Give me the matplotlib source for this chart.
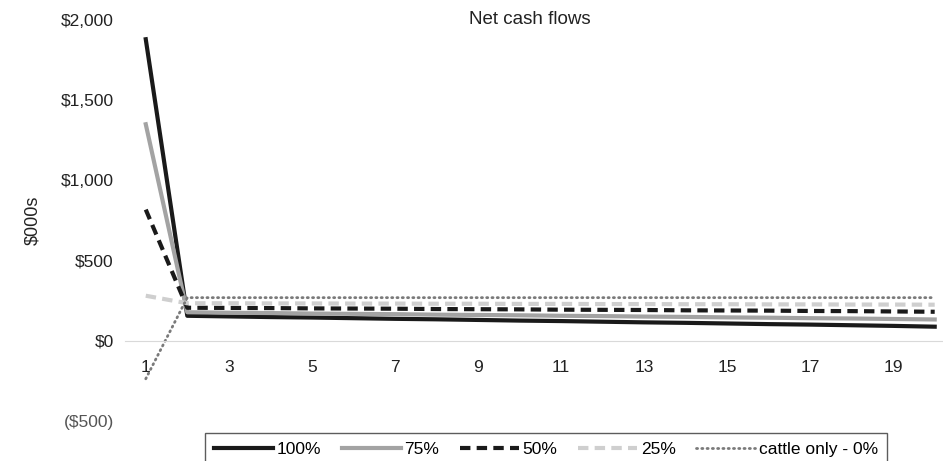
import numpy as np
import matplotlib.pyplot as plt

plt.rcParams['font.family'] = ['Liberation Sans', 'DejaVu Sans']

years = np.arange(1, 21)
# net cash flows, $000s
pct100 = [1880, 156, 152, 148, 145, 141, 137, 134, 130, 126, 123, 119, 115, 112, 108, 104, 101, 97, 93, 88]
pct75 = [1350, 178, 175, 173, 170, 168, 166, 163, 161, 159, 156, 154, 151, 149, 146, 144, 141, 139, 136, 133]
pct50 = [818, 206, 205, 204, 202, 201, 200, 198, 197, 196, 194, 193, 192, 190, 189, 188, 186, 185, 183, 181]
pct25 = [281, 234, 234, 233, 233, 232, 232, 231, 231, 230, 230, 229, 229, 228, 228, 227, 227, 226, 226, 225]
cattle = [-237, 269, 269, 269, 269, 269, 269, 269, 269, 269, 269, 269, 269, 269, 269, 269, 269, 269, 269, 269]

fig = plt.figure(figsize=(9.43, 4.61), dpi=100)
ax = fig.add_axes([125/943, 1 - 421/461, 1 - 125/943, 401/461])

ax.plot(years, pct100, color='#1a1a1a', lw=3, label='100%')
ax.plot(years, pct75, color='#a3a3a3', lw=3, label='75%')
ax.plot(years, pct50, color='#1a1a1a', lw=3, ls=(0, (2.5, 1.5)), label='50%')
ax.plot(years, pct25, color='#cfcfcf', lw=3, ls=(0, (2.5, 1.5)), label='25%')
ax.plot(years, cattle, color='#7a7a7a', lw=2, ls=(0, (0.4, 1.5)), dash_capstyle='round', label='cattle only - 0%')

ax.set_xlim(0.5, 20.2)
ax.set_ylim(-500, 2000)
ax.set_yticks([-500, 0, 500, 1000, 1500, 2000])
ax.set_yticklabels(['($500)', '$0', '$500', '$1,000', '$1,500', '$2,000'])
ax.set_xticks(np.arange(1, 20, 2))

for s in ['left', 'right', 'top']:
    ax.spines[s].set_visible(False)
ax.spines['bottom'].set_position(('data', 0))
ax.spines['bottom'].set_color('#d9d9d9')
ax.tick_params(axis='both', length=0, labelsize=12.5, colors='#222222')
ax.tick_params(axis='x', pad=14)
ax.tick_params(axis='y', pad=8)
ax.get_yticklabels()[0].set_color('#555555')

ax.set_ylabel('$000s', fontsize=13, color='#222222', labelpad=14)
fig.text(530/943, 1 - 20/461, 'Net cash flows', ha='center', va='center', fontsize=13.5, color='#222222')

fig.legend(loc='upper center', bbox_to_anchor=(546/943, 1 - 433/461), ncol=5, fontsize=12.5,
           frameon=True, fancybox=False, edgecolor='#333333', handlelength=3.4,
           handletextpad=0.2, columnspacing=1.2, borderpad=0.5, borderaxespad=0)

fig.savefig('out.png', dpi=100)
